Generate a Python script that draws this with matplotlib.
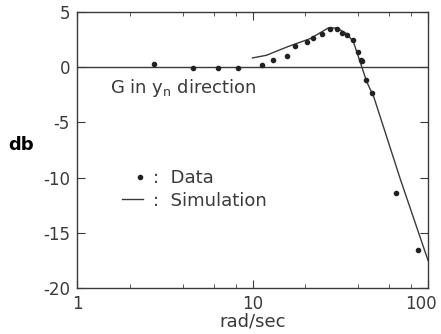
import numpy as np
import matplotlib.pyplot as plt
from matplotlib.ticker import LogLocator, NullFormatter
from matplotlib.transforms import ScaledTranslation

plt.rcParams['axes.unicode_minus'] = False

# measured points
data_w = [2.75, 4.6, 6.4, 8.3, 11.3, 13.0, 15.7, 17.5, 20.5, 22.2, 24.8, 27.7, 30.2,
          32.2, 34.4, 37.2, 39.7, 41.4, 42.1, 44.3, 47.8, 65.8, 88.1]
data_db = [0.33, -0.1, -0.1, -0.1, 0.24, 0.63, 1.03, 1.96, 2.26, 2.69, 3.0, 3.5, 3.5,
           3.14, 2.93, 2.5, 1.39, 0.69, 0.54, -1.12, -2.32, -11.35, -16.58]

# simulation curve
sim_w = [10.0, 12.0, 15.7, 21.3, 27.0, 30.2, 34.4, 37.6, 41.0, 44.8, 49.1, 69.4, 100.0]
sim_db = [0.85, 1.09, 1.84, 2.6, 3.56, 3.56, 3.05, 2.3, 0.5, -1.33, -2.69, -10.1, -17.5]

ink = '#3a3a3a'

fig = plt.figure(figsize=(4.41, 3.34), dpi=100)
ax = fig.add_axes([0.1746, 0.1377, 0.796, 0.826])

ax.axhline(0, color=ink, lw=1.0)
ax.plot(sim_w, sim_db, color=ink, lw=1.0)
ax.scatter(data_w, data_db, s=9, color='#222222', zorder=3)

ax.set_xscale('log')
ax.set_xlim(1, 100)
ax.set_ylim(-20, 5)
ax.set_yticks([5, 0, -5, -10, -15, -20])
ax.xaxis.set_minor_locator(LogLocator(base=10, subs=(2, 4, 6, 8)))
ax.xaxis.set_minor_formatter(NullFormatter())
ax.set_xticks([1, 10, 100])
ax.set_xticklabels(['1', '10', '100'])

ax.tick_params(which='both', direction='in', top=True, right=True, colors=ink,
               labelcolor=ink, labelsize=12)
ax.tick_params(which='major', length=6, pad=5)
ax.tick_params(which='minor', length=3)
for s in ax.spines.values():
    s.set_color(ink)
    s.set_linewidth(1.0)

# pull the "100" label a little left so it stays inside the image
lab = ax.get_xticklabels()[-1]
lab.set_transform(lab.get_transform() + ScaledTranslation(-5 / 72, 0, fig.dpi_scale_trans))

ax.set_xlabel('rad/sec', color=ink, fontsize=13, labelpad=0)
fig.text(0.018, 0.565, 'db', fontsize=13, fontweight='bold', color='black',
         va='center', ha='left')

ax.text(1.54, -2.3, 'G in $\\mathregular{y_n}$ direction', fontsize=13, color=ink,
        va='baseline')
ax.scatter([2.29], [-9.96], s=9, color='#222222')
ax.text(2.71, -10.5, ':  Data', fontsize=13, color=ink, va='baseline')
ax.plot([1.80, 2.38], [-11.96, -11.96], color=ink, lw=1.0)
ax.text(2.71, -12.6, ':  Simulation', fontsize=13, color=ink, va='baseline')

plt.savefig('out.png', dpi=100)
